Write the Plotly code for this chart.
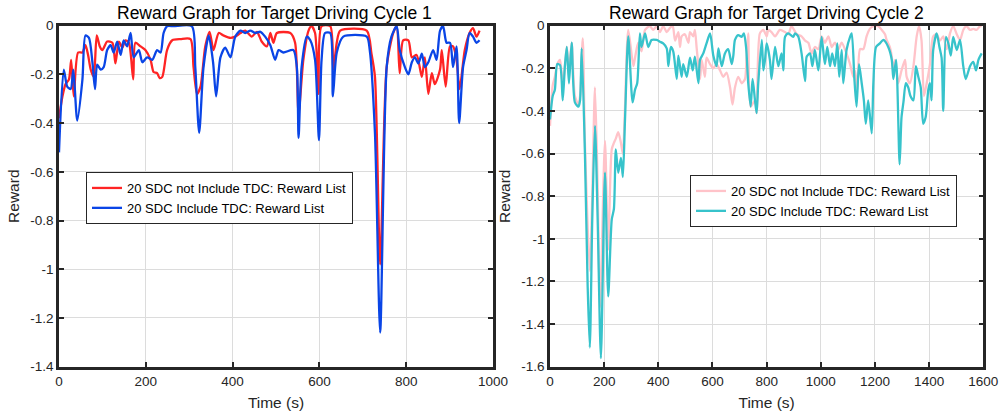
import plotly.graph_objects as go

# ---------------- data: Target Driving Cycle 1 ----------------
t1_red = [0, 8, 15, 23, 28, 34, 44, 54, 61, 67, 73, 80, 87, 94, 100, 111, 123, 130, 138, 146,
          153, 161, 171, 176, 188, 199, 211, 218, 226, 232, 238, 249, 261, 280, 303, 310, 318,
          326, 337, 347, 356, 368, 379, 395, 406, 418, 429, 444, 456, 467, 479, 487, 494, 502,
          533, 544, 552, 563, 575, 582, 590, 598, 605, 625, 632, 640, 648, 709, 720, 728, 740,
          755, 770, 778, 785, 793, 805, 813, 824, 836, 843, 851, 859, 866, 878, 882, 891, 901,
          908, 916, 923, 935, 946, 954, 962, 969]
r1_red = [-0.38, -0.29, -0.24, -0.22, -0.14, -0.29, -0.11, -0.11, -0.08, -0.12, -0.18, -0.21,
          -0.04, -0.085, -0.10, -0.065, -0.07, -0.155, -0.065, -0.09, -0.06, -0.07, -0.22, -0.07,
          -0.085, -0.10, -0.14, -0.19, -0.195, -0.215, -0.21, -0.10, -0.06, -0.055, -0.055, -0.17,
          -0.28, -0.25, -0.085, -0.025, -0.10, -0.03, -0.04, -0.05, -0.045, -0.03, -0.02, -0.045,
          -0.025, -0.065, -0.085, -0.03, -0.07, -0.03, -0.03, -0.07, -0.36, -0.14, -0.02, -0.002,
          -0.03, -0.28, -0.002, -0.002, -0.18, -0.07, -0.02, -0.02, -0.115, -0.21, -0.98, -0.17,
          -0.03, -0.002, -0.195, -0.06, -0.06, -0.13, -0.12, -0.21, -0.13, -0.28, -0.195, -0.24,
          -0.18, -0.10, -0.25, -0.085, -0.085, -0.14, -0.26, -0.10, -0.03, -0.01, -0.045, -0.02]

t1_blue = [0, 11, 19, 27, 33, 42, 54, 61, 69, 77, 83, 88, 96, 103, 111, 119, 126, 134, 142, 149,
           157, 165, 172, 184, 192, 203, 215, 226, 234, 241, 249, 264, 306, 314, 323, 333, 345,
           355, 362, 372, 383, 395, 406, 418, 429, 441, 452, 464, 475, 487, 498, 506, 517, 540,
           548, 552, 559, 571, 579, 590, 599, 605, 613, 625, 631, 640, 655, 709, 716, 728, 740,
           755, 766, 778, 785, 797, 805, 813, 820, 828, 836, 843, 851, 862, 870, 878, 885, 893,
           901, 908, 916, 922, 931, 939, 946, 954, 962, 969]
r1_blue = [-0.52, -0.18, -0.25, -0.26, -0.18, -0.39, -0.22, -0.04, -0.05, -0.15, -0.26, -0.16,
           -0.18, -0.17, -0.10, -0.08, -0.11, -0.065, -0.12, -0.06, -0.085, -0.03, -0.13, -0.10,
           -0.15, -0.13, -0.14, -0.10, -0.11, -0.03, -0.002, -0.002, -0.002, -0.17, -0.44, -0.17,
           -0.04, -0.15, -0.29, -0.13, -0.09, -0.13, -0.045, -0.02, -0.03, -0.02, -0.03, -0.025,
           -0.045, -0.08, -0.14, -0.10, -0.11, -0.10, -0.17, -0.46, -0.17, -0.045, -0.06, -0.14,
           -0.47, -0.14, -0.03, -0.03, -0.29, -0.11, -0.045, -0.045, -0.10, -0.44, -1.26, -0.17,
           -0.045, -0.002, -0.10, -0.17, -0.20, -0.15, -0.13, -0.155, -0.115, -0.17, -0.15, -0.10,
           -0.14, -0.02, -0.002, -0.07, -0.07, -0.17, -0.085, -0.40, -0.17, -0.10, -0.03, -0.045,
           -0.07, -0.06]

# ---------------- data: Target Driving Cycle 2 ----------------
t2_pink = [0, 10, 18, 27, 37, 47, 55, 62, 70, 80, 92, 105, 111, 121, 129, 147, 156, 166, 176,
           185, 203, 215, 228, 236, 243, 252, 262, 269, 277, 289, 308, 314, 326, 338, 351, 369,
           381, 394, 406, 418, 431, 443, 453, 462, 474, 480, 486, 498, 511, 517, 529, 535, 542,
           554, 560, 572, 578, 591, 603, 615, 628, 640, 652, 665, 674, 683, 695, 708, 720, 726,
           732, 741, 757, 763, 775, 788, 800, 806, 818, 831, 849, 868, 880, 892, 911, 929, 942,
           954, 966, 978, 991, 1003, 1015, 1028, 1040, 1052, 1065, 1077, 1095, 1108, 1120, 1126,
           1135, 1145, 1157, 1169, 1181, 1194, 1212, 1225, 1237, 1243, 1255, 1262, 1268, 1274,
           1286, 1298, 1311, 1317, 1329, 1342, 1354, 1363, 1372, 1381, 1391, 1403, 1415, 1428,
           1440, 1452, 1465, 1477, 1489, 1502, 1514, 1526, 1538, 1551, 1563, 1575, 1588, 1594]
r2_pink = [-0.47, -0.28, -0.24, -0.18, -0.16, -0.28, -0.19, -0.10, -0.21, -0.08, -0.33, -0.37,
           -0.33, -0.06, -0.55, -1.15, -0.80, -0.29, -0.75, -1.32, -0.54, -1.05, -0.58, -0.55,
           -0.53, -0.50, -0.55, -0.60, -0.38, -0.02, -0.19, -0.15, -0.08, -0.12, -0.02, -0.002,
           -0.02, -0.002, -0.03, -0.002, -0.03, -0.01, -0.002, -0.07, -0.03, -0.10, -0.05, -0.04,
           -0.08, -0.03, -0.05, -0.02, -0.11, -0.25, -0.16, -0.24, -0.15, -0.18, -0.20, -0.18,
           -0.21, -0.24, -0.22, -0.29, -0.37, -0.29, -0.24, -0.27, -0.25, -0.145, -0.036, -0.38,
           -0.35, -0.41, -0.036, -0.02, -0.05, -0.02, -0.03, -0.05, -0.02, -0.03, -0.04, -0.002,
           -0.04, -0.05, -0.07, -0.08, -0.13, -0.10, -0.11, -0.05, -0.08, -0.05, -0.10, -0.08,
           -0.11, -0.08, -0.13, -0.18, -0.24, -0.21, -0.30, -0.11, -0.11, -0.05, -0.015, -0.002,
           -0.002, -0.02, -0.04, -0.067, -0.10, -0.145, -0.22, -0.16, -0.27, -0.21, -0.16, -0.24,
           -0.27, -0.19, -0.05, -0.002, -0.07, -0.33, -0.27, -0.18, -0.05, -0.04, -0.07, -0.05,
           -0.11, -0.036, -0.002, -0.04, -0.067, -0.02, -0.002, -0.02, -0.015, -0.02, -0.002,
           -0.002]

t2_teal = [0, 10, 18, 27, 37, 47, 55, 62, 70, 80, 92, 105, 111, 117, 129, 139, 147, 156, 166,
           176, 188, 203, 215, 228, 236, 243, 252, 262, 269, 277, 289, 305, 314, 322, 332, 338,
           351, 363, 375, 394, 406, 418, 431, 437, 446, 455, 468, 474, 486, 492, 505, 517, 527,
           535, 548, 554, 566, 578, 591, 603, 615, 622, 634, 646, 658, 671, 677, 683, 695, 708,
           716, 724, 732, 741, 748, 757, 763, 769, 782, 788, 794, 800, 812, 818, 831, 843, 855,
           862, 868, 880, 898, 905, 917, 929, 942, 948, 960, 969, 978, 991, 1003, 1015, 1024,
           1034, 1042, 1052, 1061, 1068, 1077, 1083, 1095, 1108, 1114, 1124, 1132, 1141, 1151,
           1159, 1166, 1175, 1188, 1194, 1204, 1218, 1231, 1249, 1262, 1268, 1278, 1291, 1298,
           1305, 1314, 1323, 1331, 1342, 1351, 1360, 1369, 1378, 1387, 1397, 1403, 1409, 1415,
           1428, 1438, 1446, 1452, 1462, 1471, 1480, 1489, 1502, 1514, 1526, 1535, 1551, 1563,
           1573, 1582, 1594]
r2_teal = [-0.44, -0.33, -0.30, -0.18, -0.185, -0.35, -0.19, -0.10, -0.27, -0.08, -0.36, -0.38,
           -0.35, -0.106, -0.60, -1.22, -1.51, -0.91, -0.47, -0.91, -1.56, -0.69, -1.27, -0.91,
           -0.86, -0.58, -0.69, -0.62, -0.71, -0.44, -0.05, -0.36, -0.30, -0.27, -0.036, -0.10,
           -0.036, -0.10, -0.067, -0.067, -0.075, -0.083, -0.106, -0.19, -0.10, -0.12, -0.25,
           -0.14, -0.24, -0.18, -0.24, -0.15, -0.21, -0.145, -0.27, -0.16, -0.13, -0.083, -0.036,
           -0.14, -0.19, -0.106, -0.19, -0.13, -0.11, -0.18, -0.14, -0.067, -0.044, -0.052,
           -0.036, -0.10, -0.27, -0.38, -0.25, -0.35, -0.41, -0.27, -0.067, -0.21, -0.16, -0.083,
           -0.16, -0.25, -0.10, -0.19, -0.13, -0.21, -0.052, -0.036, -0.052, -0.036, -0.052,
           -0.13, -0.26, -0.145, -0.13, -0.19, -0.114, -0.21, -0.052, -0.18, -0.10, -0.19, -0.13,
           -0.19, -0.083, -0.24, -0.114, -0.27, -0.114, -0.052, -0.036, -0.25, -0.38, -0.18,
           -0.27, -0.35, -0.46, -0.35, -0.505, -0.27, -0.10, -0.083, -0.067, -0.10, -0.16, -0.25,
           -0.16, -0.65, -0.43, -0.36, -0.27, -0.29, -0.33, -0.35, -0.19, -0.24, -0.29, -0.46,
           -0.43, -0.30, -0.27, -0.35, -0.114, -0.036, -0.10, -0.15, -0.40, -0.052, -0.083, -0.14,
           -0.052, -0.114, -0.067, -0.19, -0.25, -0.19, -0.17, -0.21, -0.16, -0.13]

# ---------------- tick labels ----------------
x1_ticks = [0, 200, 400, 600, 800, 1000]
x2_ticks = [0, 200, 400, 600, 800, 1000, 1200, 1400, 1600]
y1_ticks = [0, -0.2, -0.4, -0.6, -0.8, -1, -1.2, -1.4]
y1_text = ["0", "-0.2", "-0.4", "-0.6", "-0.8", "-1", "-1.2", "-1.4"]
y2_ticks = [0, -0.2, -0.4, -0.6, -0.8, -1, -1.2, -1.4, -1.6]
y2_text = ["0", "-0.2", "-0.4", "-0.6", "-0.8", "-1", "-1.2", "-1.4", "-1.6"]

titles = ["Reward Graph for Target Driving Cycle 1", "Reward Graph for Target Driving Cycle 2"]
legend_names = ["20 SDC not Include TDC: Reward List", "20 SDC Include TDC: Reward List"]

FONT = "Liberation Sans, Arial, sans-serif"
AX = "#262626"
W, H = 1003, 417

def px_x(x):
    return x / W

def px_y(y):
    return 1 - y / H

fig = go.Figure()
sm = 0.7
fig.add_trace(go.Scatter(x=t1_red, y=r1_red, mode="lines", name=legend_names[0],
                         line=dict(color="#ff2424", width=2.3, shape="spline", smoothing=sm),
                         xaxis="x", yaxis="y", legend="legend"))
fig.add_trace(go.Scatter(x=t1_blue, y=r1_blue, mode="lines", name=legend_names[1],
                         line=dict(color="#0a45e6", width=2.3, shape="spline", smoothing=sm),
                         xaxis="x", yaxis="y", legend="legend"))
fig.add_trace(go.Scatter(x=t2_pink, y=r2_pink, mode="lines", name=legend_names[0],
                         line=dict(color="#ffc3c9", width=2.3, shape="spline", smoothing=sm),
                         xaxis="x2", yaxis="y2", legend="legend2"))
fig.add_trace(go.Scatter(x=t2_teal, y=r2_teal, mode="lines", name=legend_names[1],
                         line=dict(color="#37c3cb", width=2.3, shape="spline", smoothing=sm),
                         xaxis="x2", yaxis="y2", legend="legend2"))

def xaxis(dom, rng, ticks, anchor):
    return dict(domain=dom, range=rng, tickvals=ticks, ticktext=[str(v) for v in ticks],
                anchor=anchor, showline=True, linecolor=AX, linewidth=2.5, mirror="allticks",
                ticks="inside", ticklen=5, tickwidth=2, tickcolor=AX, automargin=False,
                showgrid=True, gridcolor="#dcdcdc", gridwidth=1.3, zeroline=False,
                tickfont=dict(family=FONT, size=13.5, color=AX),
                title=dict(text="Time (s)", font=dict(family=FONT, size=15.5, color=AX), standoff=10))

def yaxis(dom, rng, ticks, text, anchor):
    return dict(domain=dom, range=rng, tickvals=ticks, ticktext=text,
                anchor=anchor, showline=True, linecolor=AX, linewidth=2.5, mirror="allticks",
                ticks="inside", ticklen=5, tickwidth=2, tickcolor=AX, automargin=False,
                showgrid=True, gridcolor="#dcdcdc", gridwidth=1.3, zeroline=False,
                tickfont=dict(family=FONT, size=13.5, color=AX),
                title=dict(text="Reward", font=dict(family=FONT, size=15.5, color=AX), standoff=7))

ydom = [px_y(366.7), px_y(25.7)]
fig.update_layout(
    width=W, height=H, margin=dict(l=0, r=0, t=0, b=0, autoexpand=False),
    paper_bgcolor="white", plot_bgcolor="white",
    xaxis=xaxis([px_x(59), px_x(493)], [0, 1000], x1_ticks, "y"),
    yaxis=yaxis(ydom, [-1.4, 0], y1_ticks, y1_text, "x"),
    xaxis2=xaxis([px_x(550), px_x(983.3)], [0, 1600], x2_ticks, "y2"),
    yaxis2=yaxis(ydom, [-1.6, 0], y2_ticks, y2_text, "x2"),
    legend=dict(x=px_x(86), y=px_y(172), xanchor="left", yanchor="top",
                bgcolor="white", bordercolor=AX, borderwidth=1,
                font=dict(family=FONT, size=13, color="#000000"), tracegroupgap=0),
    legend2=dict(x=px_x(690), y=px_y(175), xanchor="left", yanchor="top",
                 bgcolor="white", bordercolor=AX, borderwidth=1,
                 font=dict(family=FONT, size=13, color="#000000"), tracegroupgap=0),
    showlegend=True,
    annotations=[
        dict(text=titles[0], x=px_x(274), y=px_y(13), xref="paper", yref="paper",
             showarrow=False, font=dict(family=FONT, size=17.5, color="#000000"),
             xanchor="center", yanchor="middle"),
        dict(text=titles[1], x=px_x(766), y=px_y(13), xref="paper", yref="paper",
             showarrow=False, font=dict(family=FONT, size=17.5, color="#000000"),
             xanchor="center", yanchor="middle"),
    ],
)

# remove the page's default 8px body margin so the figure fills the window from its corner
fig.write_html("out.html", config={"displayModeBar": False},
               post_script="document.body.style.margin='0';document.body.style.overflow='hidden';")
